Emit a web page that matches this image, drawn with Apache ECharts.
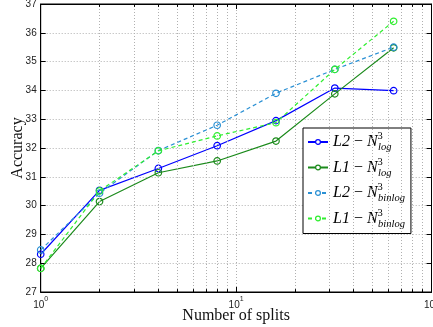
<!DOCTYPE html>
<html><head><meta charset="utf-8">
<script src="https://cdn.jsdelivr.net/npm/echarts@6/dist/echarts.min.js"></script>
<style>html,body{margin:0;padding:0;background:#fff}#c{width:433px;height:327px}</style>
</head><body><div id="c"></div>
<script>
const splits = [1, 2, 4, 8, 16, 32, 64];
const l2Log = [28.31, 30.53, 31.29, 32.08, 32.95, 34.08, 33.99];
const l1Log = [27.82, 30.14, 31.14, 31.55, 32.24, 33.88, 35.48];
const l2Binlog = [28.46, 30.43, 31.91, 32.79, 33.90, 34.73, 35.50];
const l1Binlog = [27.82, 30.51, 31.90, 32.42, 32.88, 34.73, 36.40];
const seriesNames = ['L2 log', 'L1 log', 'L2 binlog', 'L1 binlog'];
const legendParts = [['L2', 'log'], ['L1', 'log'], ['L2', 'binlog'], ['L1', 'binlog']];
const minorGridX = [2,3,4,5,6,7,8,9,20,30,40,50,60,70,80,90];
const yMin = 27, yMax = 37;

const colors = ['#0000ff', '#1b8a1b', '#2a90d4', '#2fee2f'];
const dashed = [false, false, true, true];
const allData = [l2Log, l1Log, l2Binlog, l1Binlog];

const serif = '"Liberation Serif", "DejaVu Serif", serif';
const sans = '"Liberation Sans", Arial, sans-serif';

function mkSeries(i) {
  return {
    name: seriesNames[i], type: 'line',
    data: splits.map((x, k) => [x, allData[i][k]]),
    symbol: 'circle', symbolSize: 6.5,
    lineStyle: { color: colors[i], width: 1.2, type: dashed[i] ? [4, 3] : 'solid' },
    itemStyle: { color: 'rgba(255,255,255,0)', borderColor: colors[i], borderWidth: 1.2 },
    emphasis: { disabled: true }, animation: false, z: 3 + i
  };
}

const minorLines = [];
minorGridX.forEach(x => {
  minorLines.push([{ coord: [x, yMin], lineStyle: { color: '#b0b0b0', type: [1, 2], width: 1 } }, { coord: [x, yMax] }]);
  minorLines.push([{ coord: [x, yMin], lineStyle: { color: '#000', type: 'solid', width: 1 } }, { coord: [x, yMin + 0.1] }]);
  minorLines.push([{ coord: [x, yMax], lineStyle: { color: '#000', type: 'solid', width: 1 } }, { coord: [x, yMax - 0.1] }]);
});

const chart = echarts.init(document.getElementById('c'), null, { renderer: 'canvas' });
chart.setOption({
  animation: false,
  backgroundColor: '#fff',
  grid: { left: 40.7, right: 1.5, top: 4, bottom: 35, containLabel: false, outerBoundsMode: 'none',
          show: true, borderColor: '#000', borderWidth: 1, backgroundColor: 'transparent' },
  xAxis: [{
    type: 'log', logBase: 10, min: 1, max: 100,
    name: 'Number of splits', nameLocation: 'middle', nameGap: 16, nameMoveOverlap: false,
    nameTextStyle: { fontFamily: serif, fontSize: 16, color: '#111' },
    axisLine: { show: true, lineStyle: { color: '#000', width: 1 } },
    axisTick: { show: true, inside: true, length: 5, lineStyle: { color: '#000' } },
    splitLine: { show: true, lineStyle: { color: '#b0b0b0', type: [1, 2] } },
    axisLabel: {
      margin: 4, hideOverlap: false,
      formatter: v => '{b|10}{s|' + Math.round(Math.log10(v)) + '}',
      rich: {
        b: { fontFamily: sans, fontSize: 10, color: '#222', lineHeight: 14, verticalAlign: 'bottom' },
        s: { fontFamily: sans, fontSize: 7, color: '#222', lineHeight: 14, verticalAlign: 'top' }
      }
    }
  }, {
    type: 'log', logBase: 10, min: 1, max: 100, position: 'top',
    axisLine: { show: true, lineStyle: { color: '#000' } },
    axisTick: { show: true, inside: true, length: 5, lineStyle: { color: '#000' } },
    axisLabel: { show: false }, splitLine: { show: false }
  }],
  yAxis: [{
    type: 'value', min: yMin, max: yMax, interval: 1,
    name: 'Accuracy', nameLocation: 'middle', nameGap: 15, nameRotate: 90, nameMoveOverlap: false,
    nameTextStyle: { fontFamily: serif, fontSize: 16, color: '#111' },
    axisLine: { show: true, lineStyle: { color: '#000', width: 1 } },
    axisTick: { show: true, inside: true, length: 5, lineStyle: { color: '#000' } },
    splitLine: { show: true, lineStyle: { color: '#b0b0b0', type: [1, 2] } },
    axisLabel: { fontFamily: sans, fontSize: 10, color: '#222', margin: 4 }
  }, {
    type: 'value', min: yMin, max: yMax, interval: 1, position: 'right',
    axisLine: { show: true, lineStyle: { color: '#000' } },
    axisTick: { show: true, inside: true, length: 5, lineStyle: { color: '#000' } },
    axisLabel: { show: false }, splitLine: { show: false }
  }],
  legend: {
    orient: 'vertical', left: 303, top: 128,
    padding: [3, 6, 4, 4], itemGap: 3.5,
    itemWidth: 20, itemHeight: 6,
    backgroundColor: '#fff', borderColor: '#000', borderWidth: 1, borderRadius: 0,
    itemStyle: { color: '#fff', borderWidth: 1.2 },
    data: seriesNames,
    formatter: name => {
      const p = legendParts[seriesNames.indexOf(name)];
      return '{a|' + p[0] + '}{m| \u2212 }{a|N}{p|3}{b|' + p[1] + '}';
    },
    textStyle: {
      color: '#000',
      rich: {
        a: { fontFamily: serif, fontStyle: 'italic', fontSize: 16, color: '#000', lineHeight: 22 },
        m: { fontFamily: serif, fontSize: 16, color: '#000', lineHeight: 22 },
        p: { fontFamily: serif, fontSize: 10.5, color: '#000', lineHeight: 12, verticalAlign: 'top', width: 0.5 },
        b: { fontFamily: serif, fontStyle: 'italic', fontSize: 10.5, color: '#000', lineHeight: 10, verticalAlign: 'bottom' }
      }
    }
  },
  series: [
    {
      type: 'line', data: [], silent: true, z: 1,
      markLine: { silent: true, symbol: 'none', animation: false, label: { show: false }, data: minorLines }
    },
    mkSeries(0), mkSeries(1), mkSeries(2), mkSeries(3)
  ]
});
</script>
</body></html>
